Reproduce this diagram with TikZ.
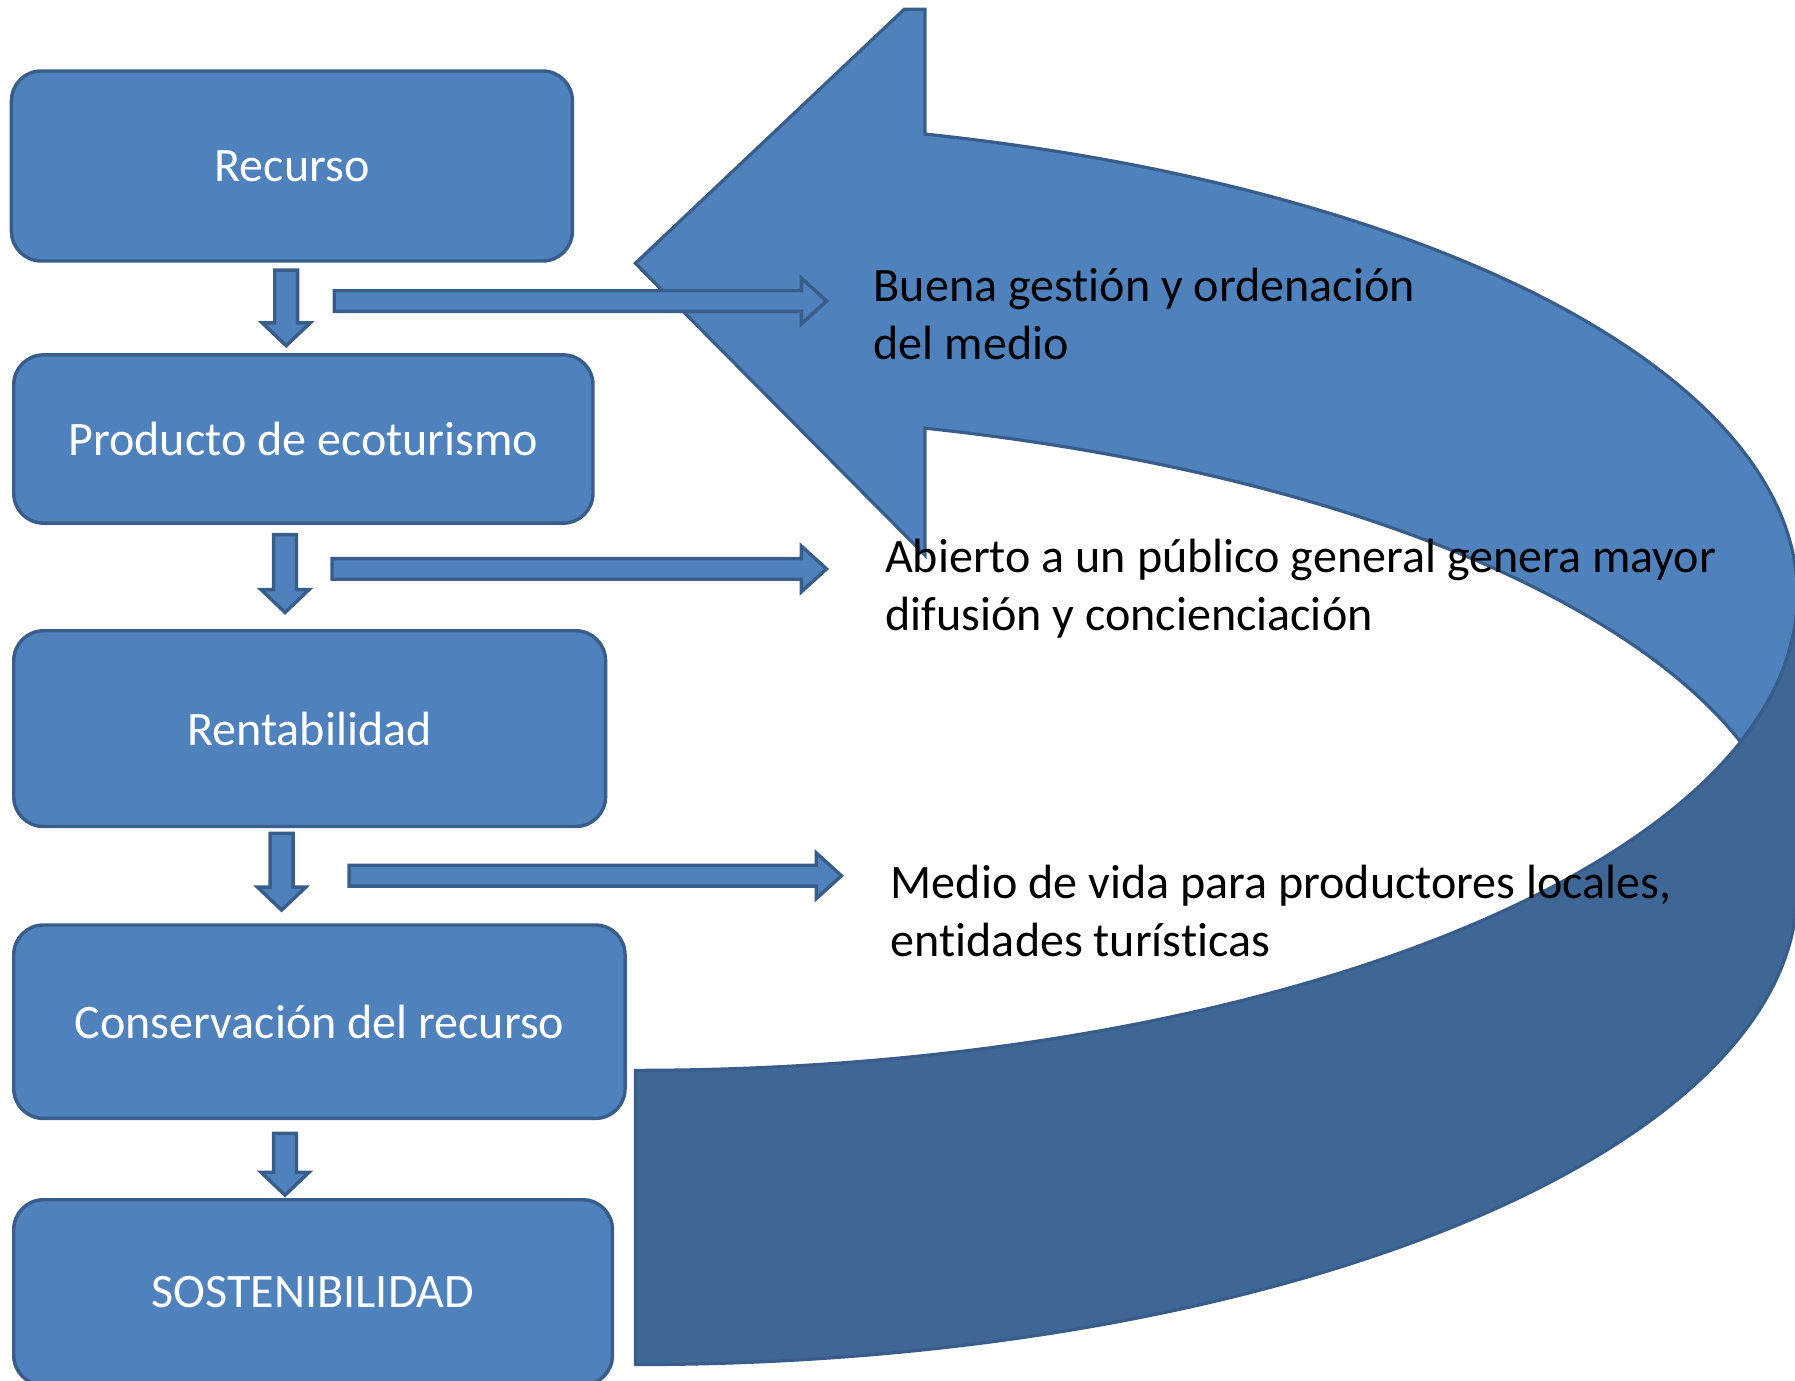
\documentclass[tikz,border=0pt]{standalone}
\usepackage{fontspec}
\setmainfont{Carlito}[Ligatures=NoCommon]
\definecolor{boxfill}{HTML}{4F81BD}
\definecolor{boxline}{HTML}{385D8A}
\definecolor{darkband}{HTML}{3F6796}
\newcommand\downblock[3]{%
  \draw[barrow] (#1-10,#2) -- (#1+10,#2) -- (#1+10,#3-20) -- (#1+21,#3-20) -- (#1,#3) -- (#1-21,#3-20) -- (#1-10,#3-20) -- cycle;}
\newcommand\rightblock[3]{%
  \draw[barrow] (#1,#3-9) -- (#2-22,#3-9) -- (#2-22,#3-20) -- (#2,#3) -- (#2-22,#3+20) -- (#2-22,#3+9) -- (#1,#3+9) -- cycle;}
\begin{document}
\begin{tikzpicture}[x=1pt,y=-1pt,
  box/.style={draw=boxline, fill=boxfill, line width=3pt, rounded corners=26pt,
    text=white, font=\fontsize{42}{51}\selectfont, inner sep=0pt},
  barrow/.style={draw=boxline, fill=boxfill, line width=3pt, line join=miter},
  lbl/.style={font=\fontsize{42}{51}\selectfont, align=left, inner sep=0pt, anchor=west},
  band/.style={draw=boxline, line width=2.8pt, line join=miter}]
\useasboundingbox (0,0) rectangle (1568,1206);
\clip (0,0) rectangle (1568,1206);

% curved return arrow: upper (light) band with head
\path[band, fill=boxfill]
  (808,117.1) arc[start angle=-75.57, end angle=18.01, x radius=1015, y radius=415.5]
  arc[start angle=-18.01, end angle=-75.57, x radius=1015, y radius=415.5]
  -- (808,485) -- (555,230) -- (790,8) -- (808,8) -- cycle;
% lower (dark) band
\path[band, fill=darkband]
  (555,935) arc[start angle=90, end angle=0, x radius=1015, y radius=415.5]
  -- (1570,776.5) arc[start angle=0, end angle=90, x radius=1015, y radius=415.5]
  -- cycle;

% boxes
\node[box, minimum width=490pt, minimum height=166pt] (recurso) at (255,145) {Recurso};
\node[box, minimum width=506pt, minimum height=147pt] (producto) at (265,383.5) {Producto de ecoturismo};
\node[box, minimum width=517pt, minimum height=171pt] (renta) at (270.5,636.5) {Rentabilidad};
\node[box, minimum width=534pt, minimum height=169pt] (conserv) at (279,892.5) {Conservación del recurso};
\node[box, minimum width=523pt, minimum height=162pt] (sosten) at (273.5,1129) {SOSTENIBILIDAD};

% down arrows
\downblock{250}{236}{302}
\downblock{249}{467}{535}
\downblock{246}{728}{795}
\downblock{249}{990}{1044}

% right arrows
\rightblock{292}{722}{263}
\rightblock{290}{722}{497}
\rightblock{305}{735}{765}

% texts
\node[lbl] (t1) at (763,274) {Buena gestión y ordenación\\del medio};
\node[lbl] (t2) at (773,514) {Abierto a un público general genera mayor\\difusión y concienciación};
\node[lbl] (t3) at (778,796) {Medio de vida para productores locales,\\entidades turísticas};
\end{tikzpicture}
\end{document}
